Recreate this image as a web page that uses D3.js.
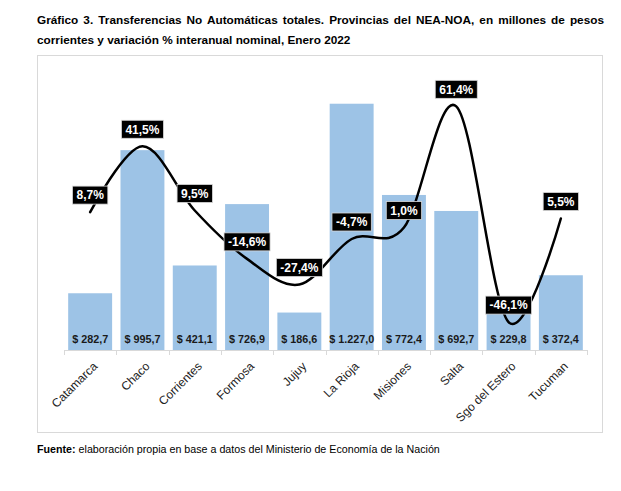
<!DOCTYPE html>
<html><head><meta charset="utf-8">
<script src="https://cdn.jsdelivr.net/npm/d3@7"></script>
<style>
body{margin:0;background:#fff;}
svg{font-family:Arial,"Liberation Sans",sans-serif;}
</style></head>
<body><svg id="c" width="621" height="491"></svg>
<script>
const categories = ["Catamarca","Chaco","Corrientes","Formosa","Jujuy","La Rioja","Misiones","Salta","Sgo del Estero","Tucuman"];
const amounts = [282.7, 995.7, 421.1, 726.9, 186.6, 1227.0, 772.4, 692.7, 229.8, 372.4];
const amountLabels = ["$ 282,7","$ 995,7","$ 421,1","$ 726,9","$ 186,6","$ 1.227,0","$ 772,4","$ 692,7","$ 229,8","$ 372,4"];
const variation = [8.7, 41.5, 9.5, -14.6, -27.4, -4.7, 1.0, 61.4, -46.1, 5.5];
const variationLabels = ["8,7%","41,5%","9,5%","-14,6%","-27,4%","-4,7%","1,0%","61,4%","-46,1%","5,5%"];
const titleLines = ["Gráfico 3. Transferencias No Automáticas totales. Provincias del NEA-NOA, en millones de pesos",
                    "corrientes y variación % interanual nominal, Enero 2022"];
const amountDomain = [0, 1400];
const variationDomain = [-60, 80];

const svg = d3.select("#c");

// Title
const t1 = svg.append("text").attr("x",37).attr("y",24).attr("font-size",11.8).attr("font-weight","bold").attr("fill","#000").text(titleLines[0]);
const w = t1.node().getComputedTextLength();
const nSp = (titleLines[0].match(/ /g)||[]).length;
if (w < 567) t1.attr("word-spacing", (567 - w)/nSp);
else t1.attr("textLength",567).attr("lengthAdjust","spacingAndGlyphs");
svg.append("text").attr("x",37).attr("y",44).attr("font-size",11.8).attr("font-weight","bold").attr("fill","#000").text(titleLines[1]);

// Frame
svg.append("rect").attr("x",37.5).attr("y",55.5).attr("width",565).attr("height",377).attr("fill","none").attr("stroke","#d9d9d9").attr("stroke-width",1);

const x = d3.scaleBand().domain(categories).range([64,587]).paddingInner(0.16).paddingOuter(0.08);
const y = d3.scaleLinear().domain(amountDomain).range([350,69]);
const y2 = d3.scaleLinear().domain(variationDomain).range([350,69]);

// Bars
svg.append("g").selectAll("rect").data(categories).join("rect")
  .attr("x",d=>x(d)).attr("width",x.bandwidth())
  .attr("y",(d,i)=>y(amounts[i])).attr("height",(d,i)=>y(0)-y(amounts[i]))
  .attr("fill","#9dc3e6");

// X axis
const ax = svg.append("g").attr("transform","translate(0,350)");
ax.append("line").attr("x1",64).attr("x2",587).attr("y1",0.5).attr("y2",0.5).attr("stroke","#d9d9d9");
const step = x.step();
const tickXs = d3.range(categories.length+1).map(i=>64+i*step);
ax.selectAll("line.t").data(tickXs).join("line").attr("class","t")
  .attr("x1",d=>Math.round(d)+0.5).attr("x2",d=>Math.round(d)+0.5).attr("y1",0).attr("y2",5).attr("stroke","#d9d9d9");
ax.selectAll("text").data(categories).join("text")
  .attr("transform",d=>`translate(${x(d)+x.bandwidth()/2+5},${14}) rotate(-45)`)
  .attr("text-anchor","end").attr("font-size",12).attr("fill","#222").attr("dy","0.35em").text(d=>d);

// Bar value labels
svg.append("g").selectAll("text").data(categories).join("text")
  .attr("x",d=>x(d)+x.bandwidth()/2).attr("y",343)
  .attr("text-anchor","middle").attr("font-size",10.8).attr("font-weight","bold").attr("fill","#1a1a1a")
  .text((d,i)=>amountLabels[i]);

// Line
const pts = categories.map((d,i)=>[x(d)+x.bandwidth()/2, y2(variation[i])]);
svg.append("path").attr("d", d3.line().curve(d3.curveCatmullRom.alpha(0))(pts))
  .attr("fill","none").attr("stroke","#000").attr("stroke-width",2.5).attr("stroke-linecap","round");

// Variation labels
const lg = svg.append("g").selectAll("g").data(categories).join("g")
  .attr("transform",(d,i)=>`translate(${pts[i][0]},${pts[i][1]-17})`);
lg.each(function(d,i){
  const g = d3.select(this);
  const tx = g.append("text").attr("text-anchor","middle").attr("dy","0.36em")
    .attr("font-size",12).attr("font-weight","bold").attr("fill","#fff").text(variationLabels[i]);
  const tw = tx.node().getComputedTextLength();
  g.insert("rect","text").attr("x",-tw/2-4).attr("y",-9).attr("width",tw+8).attr("height",18)
    .attr("fill","#000").attr("stroke","#d9d9d9").attr("stroke-width",0.8);
});

// Footnote
const f = svg.append("text").attr("x",37).attr("y",453).attr("font-size",10.7).attr("fill","#000");
f.append("tspan").attr("font-weight","bold").text("Fuente:");
f.append("tspan").text(" elaboración propia en base a datos del Ministerio de Economía de la Nación");
</script></body></html>
